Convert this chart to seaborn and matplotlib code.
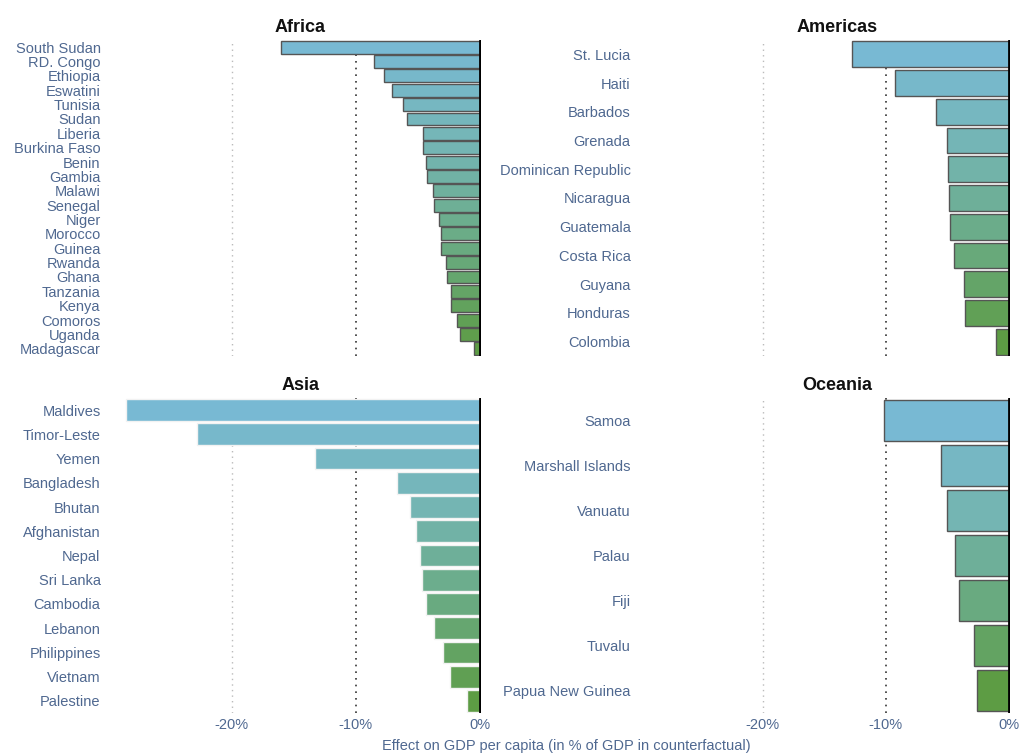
import matplotlib
matplotlib.use("Agg")
import matplotlib.pyplot as plt
import seaborn as sns

# Données (effet en % du PIB contrefactuel)
africa_countries = ["South Sudan", "RD. Congo", "Ethiopia", "Eswatini", "Tunisia", "Sudan",
                    "Liberia", "Burkina Faso", "Benin", "Gambia", "Malawi", "Senegal",
                    "Niger", "Morocco", "Guinea", "Rwanda", "Ghana", "Tanzania", "Kenya",
                    "Comoros", "Uganda", "Madagascar"]
africa_values = [-16.0, -8.5, -7.75, -7.1, -6.15, -5.9, -4.6, -4.55, -4.35, -4.25, -3.8,
                 -3.7, -3.3, -3.15, -3.13, -2.75, -2.65, -2.35, -2.3, -1.8, -1.6, -0.45]

americas_countries = ["St. Lucia", "Haiti", "Barbados", "Grenada", "Dominican Republic",
                      "Nicaragua", "Guatemala", "Costa Rica", "Guyana", "Honduras", "Colombia"]
americas_values = [-12.7, -9.2, -5.9, -5.05, -4.9, -4.88, -4.75, -4.45, -3.65, -3.55, -1.05]

asia_countries = ["Maldives", "Timor-Leste", "Yemen", "Bangladesh", "Bhutan", "Afghanistan",
                  "Nepal", "Sri Lanka", "Cambodia", "Lebanon", "Philippines", "Vietnam",
                  "Palestine"]
asia_values = [-28.5, -22.8, -13.3, -6.65, -5.65, -5.15, -4.85, -4.65, -4.3, -3.65, -3.0,
               -2.4, -1.05]

oceania_countries = ["Samoa", "Marshall Islands", "Vanuatu", "Palau", "Fiji", "Tuvalu",
                     "Papua New Guinea"]
oceania_values = [-10.15, -5.5, -5.0, -4.35, -4.05, -2.8, -2.6]

xticks = [-20, -10, 0]
xtick_labels = ["-20%", "-10%", "0%"]

sns.set_style("white")
plt.rcParams["font.family"] = ["Liberation Sans", "DejaVu Sans"]

label_color = "#4f6890"
W, H = 1021, 756
fig = plt.figure(figsize=(W / 100, H / 100), dpi=100)

def px_axes(x0, x1, ytop, ybot):
    return fig.add_axes([x0 / W, 1 - ybot / H, (x1 - x0) / W, (ybot - ytop) / H])

# titre, pays, valeurs, axes, xlim, couleur de bord, labels x, pad des labels y
panels = [
    ("Africa", africa_countries, africa_values, px_axes(120, 481, 40, 356), (-29.0, 0.1), "#555555", False, 14),
    ("Americas", americas_countries, americas_values, px_axes(664, 1010, 40, 356), (-28.0, 0.1), "#555555", False, 24),
    ("Asia", asia_countries, asia_values, px_axes(120, 481, 398, 713), (-29.0, 0.1), "#f2f2f2", True, 14),
    ("Oceania", oceania_countries, oceania_values, px_axes(664, 1010, 398, 713), (-28.0, 0.1), "#555555", True, 24),
]

for title, countries, values, ax, xlim, edge, show_x, ypad in panels:
    pal = sns.blend_palette(["#78b9d3", "#74b5b3", "#69aa80", "#5d9c44"], len(countries))
    sns.barplot(x=values, y=countries, hue=countries, palette=pal, legend=False,
                width=0.9, edgecolor=edge, linewidth=1.0, saturation=1, ax=ax, orient="h")
    ax.set_xlim(*xlim)
    ax.set_ylim(len(countries) - 0.5, -0.5)
    ax.axvline(-20, color="#bbbbbb", linestyle=(0, (1, 3)), linewidth=1, zorder=0)
    ax.axvline(-10, color="#333333", linestyle=(0, (1, 3)), linewidth=1.2, zorder=0)
    ax.axvline(0, color="black", linewidth=2, zorder=5)
    ax.set_title(title, fontsize=13, fontweight="bold", color="#111111", pad=6)
    ax.set_xlabel("")
    ax.set_ylabel("")
    ax.set_xticks(xticks)
    if show_x:
        ax.set_xticklabels(xtick_labels)
    else:
        ax.set_xticklabels([])
    ax.tick_params(axis="both", length=0, labelsize=10.5, labelcolor=label_color)
    ax.tick_params(axis="y", pad=ypad)
    sns.despine(ax=ax, left=True, bottom=True)

fig.text(566 / W, 1 - 746 / H, "Effect on GDP per capita (in % of GDP in counterfactual)",
         ha="center", va="center", fontsize=10.5, color=label_color)

fig.savefig("out.png", dpi=100)
